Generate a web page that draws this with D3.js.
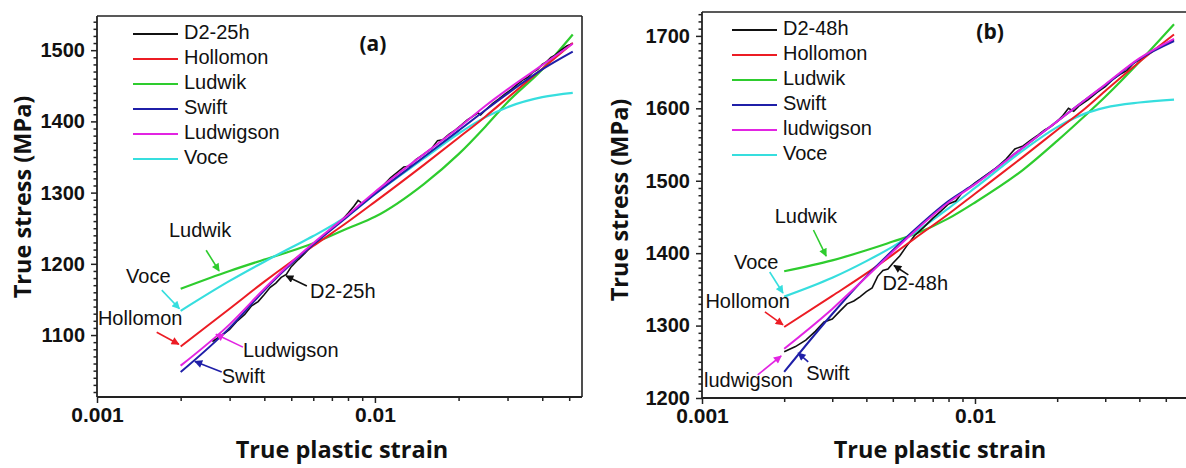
<!DOCTYPE html>
<html>
<head>
<meta charset="utf-8">
<script src="https://cdn.jsdelivr.net/npm/d3@7"></script>
<style>
    html, body { margin: 0; padding: 0; background: #fff; }
    svg { display: block; }
    .tick text { font-family: "Liberation Sans", Arial, sans-serif; font-weight: bold; fill: #111; }
    .x-ticks .tick text { font-size: 21px; }
    .y-ticks .tick text { font-size: 20px; }
    .axis-title { font-family: "Open Sans", sans-serif; font-weight: bold; font-size: 23.5px; fill: #111; }
    .panel-tag { font-family: "Open Sans", sans-serif; font-weight: bold; font-size: 21px; fill: #111; }
    .note, .legend-text { font-family: "Liberation Sans", Arial, sans-serif; font-size: 20px; fill: #111; }
</style>
</head>
<body>
<svg id="chart" width="1186" height="468"></svg>
<script>
// ---------- data: panel (a) D2-25h ----------
const fitStrainA = [0.002, 0.003, 0.004, 0.005, 0.006, 0.008, 0.01, 0.015, 0.02, 0.025, 0.03, 0.04, 0.0515]
const hollomonA = [1084, 1137, 1175, 1203, 1225, 1259, 1287, 1339, 1377, 1407, 1433, 1474, 1510]
const ludwikA = [1165, 1190, 1206, 1218, 1229, 1250, 1266, 1312, 1354, 1393, 1427, 1473, 1522]
const swiftA = [1048, 1110, 1163, 1200, 1227, 1267, 1298, 1350, 1387, 1416, 1439, 1473, 1498]
const ludwigsonA = [1057, 1115, 1165, 1202, 1229, 1269, 1301, 1354, 1391, 1422, 1445, 1479, 1509]
const voceA = [1134, 1176, 1203, 1223, 1239, 1268, 1298, 1348, 1383, 1406, 1420, 1434, 1440]

const expStrainA = [0.0026, 0.0028, 0.003, 0.0032, 0.0034, 0.0036, 0.0038, 0.004, 0.0042, 0.0044, 0.0046, 0.0048,
    0.005, 0.0053, 0.0056, 0.006, 0.0064, 0.0068, 0.0072, 0.0076, 0.008, 0.0084, 0.0087, 0.009, 0.0095, 0.01,
    0.0107, 0.0114, 0.012, 0.0127, 0.0133, 0.014, 0.015, 0.016, 0.0168, 0.0175, 0.0185, 0.0195, 0.0205, 0.0215,
    0.0225, 0.0235, 0.024, 0.025, 0.0265, 0.028, 0.0295, 0.031, 0.0325, 0.034, 0.0355, 0.037, 0.0385, 0.04,
    0.0415, 0.043, 0.0445, 0.046, 0.0475, 0.049, 0.0505, 0.0515]
const expStressA = [1091, 1099, 1108, 1120, 1129, 1141, 1147, 1157, 1167, 1173, 1181, 1185,
    1196, 1206, 1215, 1228, 1237, 1246, 1254, 1261, 1271, 1281, 1289, 1285, 1292, 1300,
    1310, 1321, 1328, 1336, 1337, 1346, 1354, 1362, 1373, 1374, 1382, 1388, 1395, 1402,
    1407, 1412, 1409, 1416, 1425, 1432, 1439, 1445, 1452, 1458, 1462, 1469, 1473, 1480,
    1484, 1490, 1493, 1498, 1502, 1506, 1508, 1510]

// ---------- data: panel (b) D2-48h ----------
const fitStrainB = [0.002, 0.003, 0.004, 0.005, 0.006, 0.008, 0.01, 0.015, 0.02, 0.025, 0.03, 0.04, 0.0536]
const hollomonB = [1298, 1341, 1372, 1398, 1420, 1454, 1482, 1533, 1570, 1598, 1624, 1664, 1702]
const ludwikB = [1375, 1390, 1404, 1416, 1426, 1448, 1470, 1515, 1555, 1588, 1616, 1664, 1716]
const swiftB = [1236, 1316, 1368, 1404, 1432, 1472, 1496, 1546, 1582, 1610, 1632, 1668, 1693]
const ludwigsonB = [1268, 1323, 1367, 1402, 1430, 1470, 1495, 1546, 1582, 1610, 1633, 1669, 1696]
const voceB = [1340, 1366, 1389, 1409, 1428, 1462, 1490, 1542, 1574, 1592, 1601, 1608, 1612]

const expStrainB = [0.002, 0.0022, 0.0024, 0.0026, 0.0028, 0.003, 0.0032, 0.0034, 0.0036, 0.0038, 0.004, 0.0042,
    0.0044, 0.0046, 0.0048, 0.005, 0.0053, 0.0056, 0.006, 0.0065, 0.007, 0.0075, 0.008, 0.0085, 0.009, 0.0095,
    0.01, 0.011, 0.012, 0.013, 0.014, 0.015, 0.016, 0.017, 0.018, 0.019, 0.02, 0.021, 0.022, 0.023, 0.024,
    0.026, 0.028, 0.03, 0.032, 0.034, 0.036, 0.038, 0.04, 0.042, 0.044, 0.046, 0.048, 0.05, 0.052, 0.0536]
const expStressB = [1264, 1271, 1280, 1292, 1305, 1309, 1320, 1330, 1334, 1340, 1347, 1352,
    1368, 1376, 1378, 1386, 1396, 1409, 1424, 1436, 1448, 1458, 1468, 1472, 1484, 1490,
    1497, 1508, 1518, 1530, 1544, 1548, 1556, 1563, 1570, 1575, 1582, 1590, 1600, 1596, 1603,
    1612, 1622, 1630, 1640, 1647, 1652, 1662, 1667, 1672, 1677, 1682, 1686, 1689, 1692, 1694]

// ---------- ticks ----------
const xMajorTicks = [0.001, 0.01]
const xMinorTicks = [0.002, 0.003, 0.004, 0.005, 0.006, 0.007, 0.008, 0.009, 0.02, 0.03, 0.04, 0.05]
const yTicksA = [1100, 1200, 1300, 1400, 1500]
const yTicksB = [1200, 1300, 1400, 1500, 1600, 1700]

const legendA = ["D2-25h", "Hollomon", "Ludwik", "Swift", "Ludwigson", "Voce"]
const legendB = ["D2-48h", "Hollomon", "Ludwik", "Swift", "ludwigson", "Voce"]

// annotations: text, colour key, label strain/stress, anchor, arrow from (strain, stress) -> to (strain, stress)
const notesA = [
    ["Ludwik", "ludwik", 0.00235, 1245, "middle", 0.00247, 1219, 0.00275, 1190],
    ["Voce", "voce", 0.00153, 1180, "middle", 0.00171, 1163, 0.00198, 1137],
    ["Hollomon", "hollomon", 0.00143, 1121, "middle", 0.00164, 1104, 0.00197, 1087],
    ["Ludwigson", "ludwigson", 0.00335, 1076, "start", 0.00335, 1083, 0.00268, 1101],
    ["Swift", "swift", 0.00281, 1040, "start", 0.00281, 1048, 0.00225, 1063],
    ["D2-25h", "exp", 0.00584, 1159, "start", 0.00569, 1169, 0.00479, 1183],
]
const notesB = [
    ["Ludwik", "ludwik", 0.0024, 1449, "middle", 0.00256, 1432, 0.00285, 1396],
    ["Voce", "voce", 0.00158, 1386, "middle", 0.00177, 1374, 0.00198, 1345],
    ["Hollomon", "hollomon", 0.00147, 1331, "middle", 0.0017, 1319, 0.00198, 1301],
    ["ludwigson", "ludwigson", 0.00148, 1222, "middle", 0.0016, 1232, 0.00195, 1258],
    ["Swift", "swift", 0.00289, 1232, "middle", 0.00245, 1250, 0.00225, 1262],
    ["D2-48h", "exp", 0.00604, 1356, "middle", 0.0057, 1370, 0.00505, 1383],
]

const colors = {
    exp: "#111111",
    hollomon: "#ec1c24",
    ludwik: "#2ecc2e",
    swift: "#1f1fa8",
    ludwigson: "#e224e2",
    voce: "#36dede",
}
const legendKeys = ["exp", "hollomon", "ludwik", "swift", "ludwigson", "voce"]

const panels = [
    {
        tag: "(a)", tagAt: [0.00983, 1507],
        left: 97, right: 582, top: 16, bottom: 397,
        xDomain: [0.001, 0.0556], yDomain: [1013, 1548], yTicks: yTicksA,
        fitStrain: fitStrainA,
        fits: { hollomon: hollomonA, ludwik: ludwikA, swift: swiftA, ludwigson: ludwigsonA, voce: voceA },
        expStrain: expStrainA, expStress: expStressA,
        legend: legendA, legendDx: 36, legendDy: 18, notes: notesA,
        yTitleX: 25, yTitleY: 197, xTitleX: 342, rightFrame: true,
    },
    {
        tag: "(b)", tagAt: [0.01136, 1704],
        left: 702, right: 1188, top: 12, bottom: 398,
        xDomain: [0.001, 0.0603], yDomain: [1200, 1733], yTicks: yTicksB,
        fitStrain: fitStrainB,
        fits: { hollomon: hollomonB, ludwik: ludwikB, swift: swiftB, ludwigson: ludwigsonB, voce: voceB },
        expStrain: expStrainB, expStress: expStressB,
        legend: legendB, legendDx: 30, legendDy: 18, notes: notesB,
        yTitleX: 622, yTitleY: 200, xTitleX: 940, rightFrame: false,
    },
]

const svg = d3.select("#chart")
const defs = svg.append("defs")

Object.entries(colors).forEach(([key, color]) => {
    defs.append("marker")
        .attr("id", `arrow-${key}`)
        .attr("viewBox", "0 0 10 10")
        .attr("refX", 9)
        .attr("refY", 5)
        .attr("markerWidth", 9)
        .attr("markerHeight", 8)
        .attr("markerUnits", "userSpaceOnUse")
        .attr("orient", "auto")
        .append("path")
        .attr("d", "M0,0 L10,5 L0,10 Z")
        .attr("fill", color)
})

const drawPanel = (p, idx) => {
    const x = d3.scaleLog().domain(p.xDomain).range([p.left, p.right])
    const y = d3.scaleLinear().domain(p.yDomain).range([p.bottom, p.top])
    const g = svg.append("g").attr("class", `panel-${idx}`)

    const clipId = `clip-${idx}`
    defs.append("clipPath").attr("id", clipId)
        .append("rect").attr("x", p.left).attr("y", p.top)
        .attr("width", p.right - p.left).attr("height", p.bottom - p.top)

    // frame (top, and right when it is inside the picture)
    g.append("line").attr("x1", p.left).attr("x2", p.right).attr("y1", p.top).attr("y2", p.top)
        .attr("stroke", "#222").attr("stroke-width", 1.6)
    if (p.rightFrame) {
        g.append("line").attr("x1", p.right).attr("x2", p.right).attr("y1", p.top).attr("y2", p.bottom)
            .attr("stroke", "#222").attr("stroke-width", 1.6)
    }

    // x axis
    const xMajor = g.append("g").attr("class", "x-ticks").attr("transform", `translate(0,${p.bottom})`)
        .call(d3.axisBottom(x).tickValues(xMajorTicks).tickSize(6).tickPadding(4)
            .tickFormat((d) => (d === 0.001 ? "0.001" : "0.01")))
    const xMinor = g.append("g").attr("transform", `translate(0,${p.bottom})`)
        .call(d3.axisBottom(x).tickValues(xMinorTicks.filter((t) => t < p.xDomain[1])).tickSize(4).tickFormat(""))

    // y axis
    const yMinorValues = d3.range(Math.ceil(p.yDomain[0] / 10) * 10, p.yDomain[1], 10)
        .filter((v) => v % 100 !== 0)
    const yMinor = g.append("g").attr("transform", `translate(${p.left},0)`)
        .call(d3.axisLeft(y).tickValues(yMinorValues).tickSize(3.5).tickFormat(""))
    const yMajor = g.append("g").attr("class", "y-ticks").attr("transform", `translate(${p.left},0)`)
        .call(d3.axisLeft(y).tickValues(p.yTicks).tickSize(6).tickPadding(6).tickFormat(d3.format("d")))

    ;[xMajor, xMinor, yMinor, yMajor].forEach((ax) => {
        ax.select(".domain").remove()
        ax.selectAll(".tick line").attr("stroke", "#222").attr("stroke-width", 1.5)
    })

    g.append("line").attr("x1", p.left).attr("x2", p.left).attr("y1", p.top).attr("y2", p.bottom)
        .attr("stroke", "#222").attr("stroke-width", 1.8)
    g.append("line").attr("x1", p.left).attr("x2", p.right).attr("y1", p.bottom).attr("y2", p.bottom)
        .attr("stroke", "#222").attr("stroke-width", 1.8)

    // curves
    const curves = g.append("g").attr("clip-path", `url(#${clipId})`)
    const fitLine = d3.line().x((d) => x(d[0])).y((d) => y(d[1])).curve(d3.curveMonotoneX)
    const expLine = d3.line().x((d) => x(d[0])).y((d) => y(d[1]))
    const fitPath = (key) => fitLine(p.fitStrain.map((s, i) => [s, p.fits[key][i]]))

    ;["ludwik", "voce"].forEach((key) => {
        curves.append("path").attr("d", fitPath(key)).attr("fill", "none")
            .attr("stroke", colors[key]).attr("stroke-width", 2.2)
    })
    curves.append("path")
        .attr("d", expLine(p.expStrain.map((s, i) => [s, p.expStress[i]])))
        .attr("fill", "none").attr("stroke", colors.exp).attr("stroke-width", 1.6)
    ;["hollomon", "swift", "ludwigson"].forEach((key) => {
        curves.append("path").attr("d", fitPath(key)).attr("fill", "none")
            .attr("stroke", colors[key]).attr("stroke-width", 2)
    })

    // legend
    const lg = g.append("g").attr("transform", `translate(${p.left + p.legendDx},${p.top + p.legendDy})`)
    p.legend.forEach((name, i) => {
        const row = lg.append("g").attr("transform", `translate(0,${i * 25})`)
        row.append("line").attr("x1", 0).attr("x2", 45).attr("y1", 0).attr("y2", 0)
            .attr("stroke", colors[legendKeys[i]]).attr("stroke-width", 2)
        row.append("text").attr("class", "legend-text").attr("x", 51).attr("y", 0)
            .attr("dominant-baseline", "middle").text(name)
    })

    // annotations
    p.notes.forEach(([label, key, ls, lv, anchor, fs, fv, ts, tv]) => {
        g.append("text").attr("class", "note")
            .attr("x", x(ls)).attr("y", y(lv))
            .attr("text-anchor", anchor).attr("dominant-baseline", "middle")
            .text(label)
        g.append("line")
            .attr("x1", x(fs)).attr("y1", y(fv)).attr("x2", x(ts)).attr("y2", y(tv))
            .attr("stroke", colors[key]).attr("stroke-width", 1.6)
            .attr("marker-end", `url(#arrow-${key})`)
    })

    g.append("text").attr("class", "panel-tag")
        .attr("x", x(p.tagAt[0])).attr("y", y(p.tagAt[1]))
        .attr("text-anchor", "middle").attr("dominant-baseline", "middle")
        .text(p.tag)

    // axis titles
    g.append("text").attr("class", "axis-title")
        .attr("transform", `translate(${p.yTitleX},${p.yTitleY}) rotate(-90)`)
        .attr("text-anchor", "middle").attr("dominant-baseline", "middle")
        .text("True stress (MPa)")
    g.append("text").attr("class", "axis-title")
        .attr("x", p.xTitleX).attr("y", 452)
        .attr("text-anchor", "middle").attr("dominant-baseline", "middle")
        .text("True plastic strain")
}

panels.forEach(drawPanel)
</script>
</body>
</html>
